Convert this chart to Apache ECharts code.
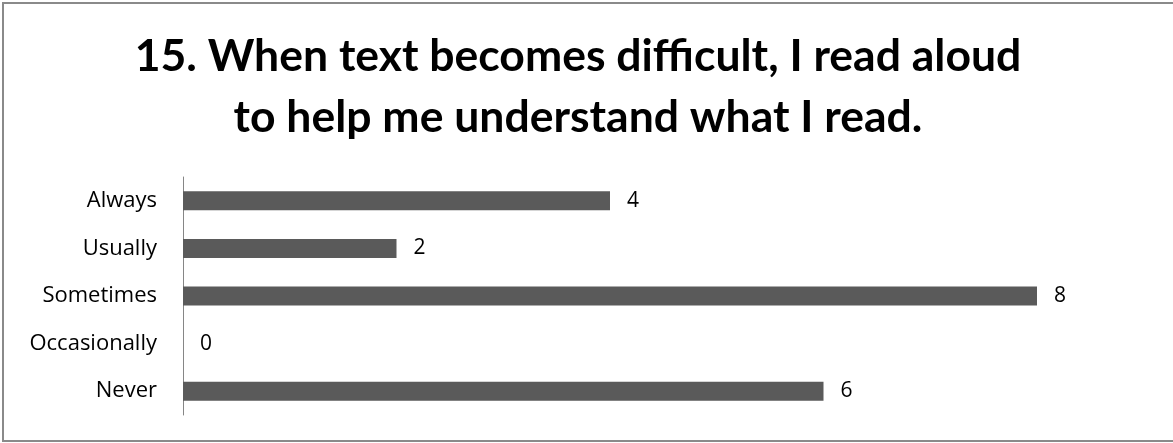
<!DOCTYPE html>
<html>
<head>
<meta charset="utf-8">
<script src="https://cdn.jsdelivr.net/npm/echarts@6/dist/echarts.min.js"></script>
<style>
  html, body { margin: 0; padding: 0; background: #ffffff; }
  #chart { width: 1173px; height: 443px; }
</style>
</head>
<body>
<div id="chart"></div>
<script>
// Survey answers for question 15, top to bottom
const categories = ['Always', 'Usually', 'Sometimes', 'Occasionally', 'Never'];
const counts = [4, 2, 8, 0, 6];
const titleText = '15. When text becomes difficult, I read aloud\nto help me understand what I read.';

const chart = echarts.init(document.getElementById('chart'), null, { renderer: 'canvas' });

chart.setOption({
  backgroundColor: '#ffffff',
  animation: false,
  title: {
    text: titleText,
    left: 573,
    top: 21,
    textAlign: 'center',
    textStyle: {
      fontFamily: 'Lato',
      fontWeight: 'bold',
      fontSize: 44.5,
      lineHeight: 61,
      color: '#000000'
    }
  },
  graphic: [{
    type: 'rect',
    shape: { x: 3, y: 3, width: 1185, height: 438 },
    style: { fill: 'none', stroke: '#8a8a8a', lineWidth: 2 },
    silent: true
  }],
  grid: {
    left: 183,
    right: 136,
    top: 177,
    bottom: 28
  },
  xAxis: {
    type: 'value',
    min: 0,
    max: 8,
    show: false
  },
  yAxis: {
    type: 'category',
    data: categories,
    inverse: true,
    axisLine: { show: true, lineStyle: { color: '#868686', width: 1 } },
    axisTick: { show: false },
    axisLabel: {
      margin: 26,
      fontFamily: 'Open Sans',
      fontSize: 22,
      color: '#000000'
    }
  },
  series: [{
    type: 'bar',
    data: counts,
    barCategoryGap: '60%',
    itemStyle: { color: '#5a5a5a' },
    label: {
      show: true,
      position: 'right',
      distance: 17,
      fontFamily: 'Open Sans',
      fontSize: 21,
      color: '#000000'
    }
  }]
});
</script>
</body>
</html>
